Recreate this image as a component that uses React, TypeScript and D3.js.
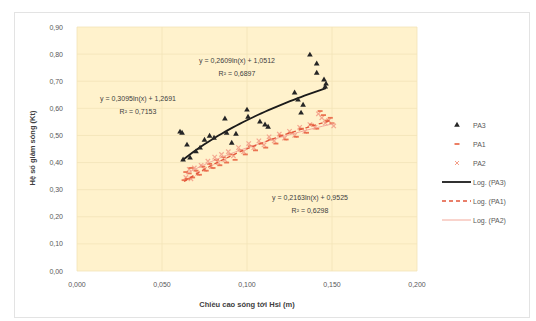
import React from "react";
import * as d3 from "d3";

const W = 536;
const H = 321;

const xTicks = [0, 0.05, 0.1, 0.15, 0.2];
const yTicks = [0, 0.1, 0.2, 0.3, 0.4, 0.5, 0.6, 0.7, 0.8, 0.9];

const seriesNames = ["PA3", "PA1", "PA2"];
const trendNames = ["Log. (PA3)", "Log. (PA1)", "Log. (PA2)"];

const pa3: [number, number][] = [
  [0.0606, 0.513], [0.0618, 0.509], [0.0647, 0.465], [0.0624, 0.41], [0.0665, 0.417],
  [0.07, 0.44], [0.0724, 0.454], [0.075, 0.483], [0.078, 0.498], [0.0806, 0.49],
  [0.087, 0.561], [0.088, 0.509], [0.091, 0.472], [0.0935, 0.505], [0.1006, 0.568],
  [0.1, 0.594], [0.1076, 0.55], [0.1106, 0.539], [0.1124, 0.531], [0.128, 0.657],
  [0.13, 0.631], [0.1318, 0.583], [0.133, 0.612], [0.137, 0.797], [0.141, 0.764],
  [0.141, 0.73], [0.1453, 0.705], [0.146, 0.679], [0.1465, 0.69],
];

const pa1: [number, number][] = [
  [0.063, 0.335], [0.064, 0.365], [0.065, 0.34], [0.066, 0.36], [0.067, 0.38], [0.068, 0.345],
  [0.07, 0.37], [0.072, 0.355], [0.074, 0.385], [0.076, 0.37], [0.078, 0.395], [0.08, 0.38],
  [0.082, 0.41], [0.084, 0.39], [0.086, 0.42], [0.088, 0.4], [0.09, 0.43], [0.093, 0.41],
  [0.096, 0.445], [0.099, 0.43], [0.102, 0.46], [0.105, 0.445], [0.108, 0.47], [0.111, 0.455],
  [0.114, 0.485], [0.117, 0.47], [0.12, 0.5], [0.123, 0.485], [0.126, 0.51], [0.129, 0.495],
  [0.132, 0.525], [0.135, 0.51], [0.138, 0.54], [0.141, 0.525], [0.143, 0.59], [0.145, 0.575],
  [0.147, 0.555], [0.149, 0.565], [0.15, 0.545],
];

const pa2: [number, number][] = [
  [0.064, 0.345], [0.066, 0.375], [0.067, 0.34], [0.069, 0.38], [0.071, 0.36], [0.073, 0.39],
  [0.075, 0.375], [0.077, 0.405], [0.079, 0.385], [0.081, 0.42], [0.083, 0.4], [0.085, 0.43],
  [0.087, 0.41], [0.089, 0.44], [0.092, 0.425], [0.095, 0.455], [0.098, 0.44], [0.101, 0.47],
  [0.104, 0.455], [0.107, 0.48], [0.11, 0.465], [0.113, 0.495], [0.116, 0.48], [0.119, 0.505],
  [0.122, 0.49], [0.125, 0.515], [0.128, 0.5], [0.131, 0.53], [0.134, 0.515], [0.137, 0.54],
  [0.14, 0.53], [0.142, 0.58], [0.144, 0.565], [0.146, 0.545], [0.148, 0.555], [0.151, 0.535],
];

// log trendlines: y = a*ln(x) + b, over [xMin, xMax]
const trendA = [0.3095, 0.2609, 0.2163];
const trendB = [1.2691, 1.0512, 0.9525];
const trendXMin = [0.0618, 0.063, 0.064];
const trendXMax = [0.1465, 0.15, 0.151];

const eqLines = [
  ["y = 0,2609ln(x) + 1,0512", "R² = 0,6897"],
  ["y = 0,3095ln(x) + 1,2691", "R² = 0,7153"],
  ["y = 0,2163ln(x) + 0,9525", "R² = 0,6298"],
];

const fmtX = (v: number) => v.toFixed(3).replace(".", ",");
const fmtY = (v: number) => v.toFixed(2).replace(".", ",");

export default function App() {
  const x = d3.scaleLinear().domain([0, 0.2]).range([77, 417]);
  const y = d3.scaleLinear().domain([0, 0.9]).range([271, 27]);

  const trendColors = ["#1a1a1a", "#e2553a", "#f3a89a"];
  const trendDash = [null, "4,3", null];
  const trendWidth = [1.8, 1.3, 1];

  const trendPath = (k: number) => {
    const xs = d3.range(0, 41).map((i) => trendXMin[k] + ((trendXMax[k] - trendXMin[k]) * i) / 40);
    return d3
      .line<number>()
      .x((d) => x(d))
      .y((d) => y(trendA[k] * Math.log(d) + trendB[k]))(xs) as string;
  };

  const font = "'Liberation Sans', Arial, sans-serif";
  const txt = "#595959";
  const tri = d3.symbol().type(d3.symbolTriangle).size(14)() as string;

  return (
    <svg width={W} height={H} style={{ position: "absolute", left: 0, top: 0 }} fontFamily={font}>
      <rect x={0} y={0} width={W} height={H} fill="#ffffff" />
      <rect x={14.5} y={12.5} width={515} height={305} fill="#ffffff" stroke="#e3e3e3" />
      {/* plot area */}
      <rect x={x(0)} y={y(0.9)} width={x(0.2) - x(0)} height={y(0) - y(0.9)} fill="#fff2cc" />
      {yTicks.map((t) => (
        <line key={"gy" + t} x1={x(0)} x2={x(0.2)} y1={y(t)} y2={y(t)} stroke="#f2e3b8" strokeWidth={0.8} />
      ))}
      {xTicks.map((t) => (
        <line key={"gx" + t} x1={x(t)} x2={x(t)} y1={y(0)} y2={y(0.9)} stroke="#f2e3b8" strokeWidth={0.8} />
      ))}
      {yTicks.map((t) => (
        <text key={"ty" + t} x={x(0) - 14} y={y(t) + 2.5} fontSize={7} fill={txt} textAnchor="end">
          {fmtY(t)}
        </text>
      ))}
      {xTicks.map((t) => (
        <text key={"tx" + t} x={x(t)} y={287} fontSize={7} fill={txt} textAnchor="middle">
          {fmtX(t)}
        </text>
      ))}
      <text x={247} y={307} fontSize={7.5} fontWeight="bold" fill="#404040" textAnchor="middle">
        Chiều cao sóng tới Hsi (m)
      </text>
      <text
        transform={`translate(35,148) rotate(-90)`}
        fontSize={7.5}
        fontWeight="bold"
        fill="#404040"
        textAnchor="middle"
      >
        Hệ số giảm sóng (Kt)
      </text>

      {/* PA2 points */}
      {pa2.map((d, i) => (
        <g key={"p2" + i} stroke="#f4a08a" strokeWidth={1.2} opacity={0.9}>
          <line x1={x(d[0]) - 2.2} x2={x(d[0]) + 2.2} y1={y(d[1]) - 2.2} y2={y(d[1]) + 2.2} />
          <line x1={x(d[0]) - 2.2} x2={x(d[0]) + 2.2} y1={y(d[1]) + 2.2} y2={y(d[1]) - 2.2} />
        </g>
      ))}
      {/* PA1 points */}
      {pa1.map((d, i) => (
        <line
          key={"p1" + i}
          x1={x(d[0]) - 2.5}
          x2={x(d[0]) + 2.5}
          y1={y(d[1])}
          y2={y(d[1])}
          stroke="#e8603e"
          strokeWidth={1.8}
          opacity={0.85}
        />
      ))}
      {/* trend lines */}
      {[2, 1, 0].map((k) => (
        <path
          key={"tr" + k}
          d={trendPath(k)}
          fill="none"
          stroke={trendColors[k]}
          strokeWidth={trendWidth[k]}
          strokeDasharray={trendDash[k] ?? undefined}
        />
      ))}
      {/* PA3 points */}
      {pa3.map((d, i) => (
        <path key={"p3" + i} d={tri} transform={`translate(${x(d[0])},${y(d[1])})`} fill="#262626" />
      ))}

      {/* equations */}
      {[
        [237, 61],
        [138, 99],
        [310, 198],
      ].map((p, k) => (
        <g key={"eq" + k}>
          <text x={p[0]} y={p[1] + 2} fontSize={7} fill="#404040" textAnchor="middle">
            {eqLines[k][0]}
          </text>
          <text x={p[0]} y={p[1] + 15} fontSize={7} fill="#404040" textAnchor="middle">
            {eqLines[k][1]}
          </text>
        </g>
      ))}

      {/* legend */}
      {seriesNames.map((n, i) => {
        const ly = 125 + i * 19;
        return (
          <g key={"lg" + n}>
            {i === 0 && <path d={tri} transform={`translate(457,${ly})`} fill="#262626" />}
            {i === 1 && <line x1={454.5} x2={459.5} y1={ly} y2={ly} stroke="#e8603e" strokeWidth={1.6} />}
            {i === 2 && (
              <g stroke="#f4a08a" strokeWidth={1}>
                <line x1={455} x2={459} y1={ly - 2} y2={ly + 2} />
                <line x1={455} x2={459} y1={ly + 2} y2={ly - 2} />
              </g>
            )}
            <text x={473} y={ly + 2.5} fontSize={7} fill={txt}>
              {n}
            </text>
          </g>
        );
      })}
      {trendNames.map((n, k) => {
        const ly = 182 + k * 19;
        return (
          <g key={"lt" + n}>
            <line
              x1={442}
              x2={471}
              y1={ly}
              y2={ly}
              stroke={trendColors[k]}
              strokeWidth={trendWidth[k]}
              strokeDasharray={trendDash[k] ?? undefined}
            />
            <text x={473} y={ly + 2.5} fontSize={7} fill={txt}>
              {n}
            </text>
          </g>
        );
      })}
    </svg>
  );
}
